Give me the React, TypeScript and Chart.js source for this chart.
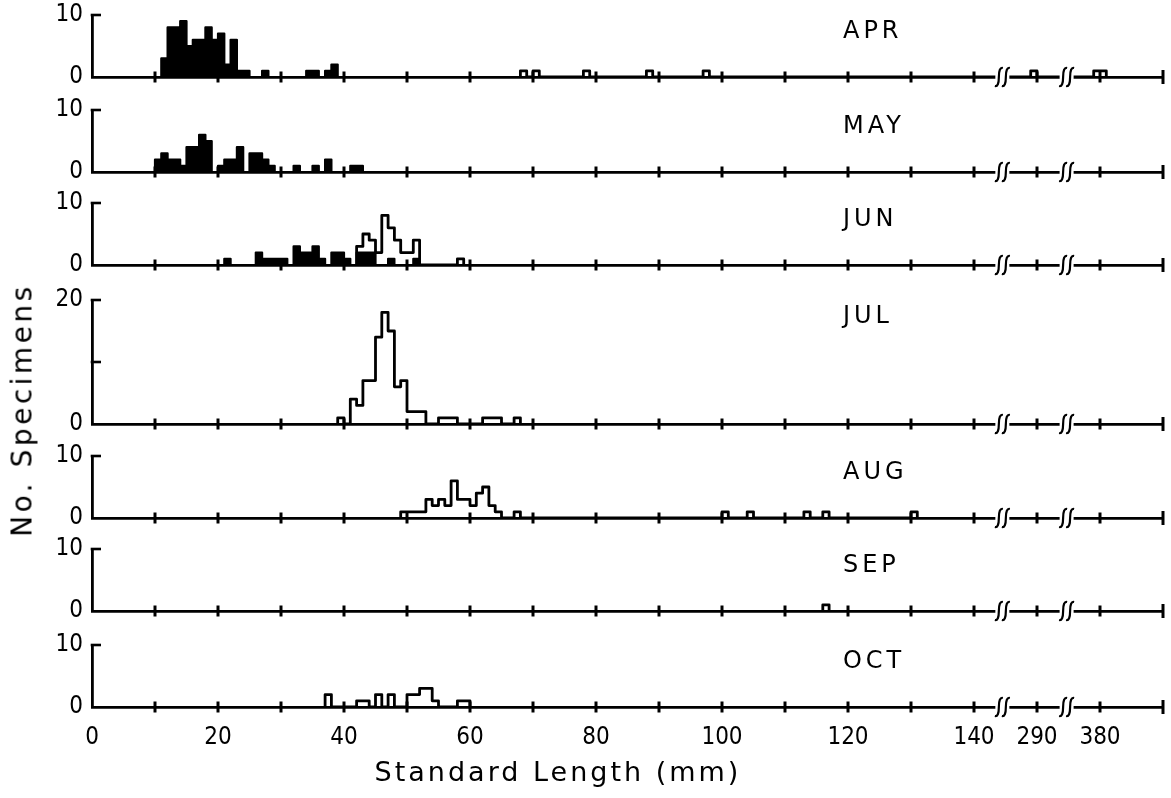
import React, { useEffect, useRef } from "react";
import { Chart, registerables } from "chart.js";

Chart.register(...registerables);

// ---------- DATA (1-mm size classes, left edge in mm; counts = no. specimens) ----------
const monthNames = ["APR", "MAY", "JUN", "JUL", "AUG", "SEP", "OCT"];

const aprFilledBins = [11, 12, 13, 14, 15, 16, 17, 18, 19, 20, 21, 22, 23, 24, 27, 34, 35, 37, 38];
const aprFilledCounts = [3, 8, 8, 9, 5, 6, 6, 8, 6, 7, 2, 6, 1, 1, 1, 1, 1, 1, 2];
const aprOpenBins = [68, 70, 78, 88, 97, 149, 159, 160];
const aprOpenCounts = [1, 1, 1, 1, 1, 1, 1, 1];

const mayFilledBins = [10, 11, 12, 13, 14, 15, 16, 17, 18, 20, 21, 22, 23, 25, 26, 27, 28, 32, 35, 37, 41, 42];
const mayFilledCounts = [2, 3, 2, 2, 1, 4, 4, 6, 5, 1, 2, 2, 4, 3, 3, 2, 1, 1, 1, 2, 1, 1];

const junFilledBins = [21, 26, 27, 28, 29, 30, 32, 33, 34, 35, 36, 38, 39, 40, 42, 43, 44, 47, 51];
const junFilledCounts = [1, 2, 1, 1, 1, 1, 3, 2, 2, 3, 1, 2, 2, 1, 2, 2, 2, 1, 1];
const junOpenBins = [42, 43, 44, 45, 46, 47, 48, 49, 50, 51, 58];
const junOpenCounts = [3, 5, 4, 2, 8, 6, 4, 2, 2, 4, 1];

const julOpenBins = [39, 41, 42, 43, 44, 45, 46, 47, 48, 49, 50, 51, 52, 55, 56, 57, 62, 63, 64, 67];
const julOpenCounts = [1, 4, 3, 7, 7, 14, 18, 15, 6, 7, 2, 2, 2, 1, 1, 1, 1, 1, 1, 1];

const augOpenBins = [49, 50, 51, 52, 53, 54, 55, 56, 57, 58, 59, 60, 61, 62, 63, 64, 67, 100, 104, 113, 116, 130];
const augOpenCounts = [1, 1, 1, 1, 3, 2, 3, 2, 6, 3, 3, 2, 4, 5, 2, 1, 1, 1, 1, 1, 1, 1];

const sepOpenBins = [116];
const sepOpenCounts = [1];

const octOpenBins = [37, 42, 43, 45, 47, 50, 51, 52, 53, 54, 58, 59];
const octOpenCounts = [2, 1, 1, 2, 2, 2, 2, 3, 3, 1, 1, 1];

const yAxisMax = [10, 10, 10, 20, 10, 10, 10];

// x axis: 0-140 mm linear, then broken axis: position 150 = 290 mm, 160 = 380 mm
const xTickValues = [0, 10, 20, 30, 40, 50, 60, 70, 80, 90, 100, 110, 120, 130, 140, 150, 160, 170];
const xTickLabels = ["0", "", "20", "", "40", "", "60", "", "80", "", "100", "", "120", "", "140", "290", "380", ""];
const axisBreaks = [144.5, 154.7];
const monthLabelX = 119.2;

// ---------- LAYOUT ----------
const panelTop = [15, 110, 203, 300, 456, 549, 645];
const panelBase = [77, 172, 265, 424, 518, 611, 707];
const PT = 16;
const XH = 16;
const XH_LAST = 90;
const FONT = "'DejaVu Sans Condensed', 'DejaVu Sans', 'Liberation Sans', sans-serif";
const TITLE_FONT = "'DejaVu Sans', 'Liberation Sans', sans-serif";

type Pt = { x: number; y: number };

function buildSteps(bins: number[], counts: number[]): Pt[] {
  const pts: Pt[] = [];
  for (let i = 0; i < bins.length; i++) {
    const b = bins[i];
    if (i === 0 || bins[i - 1] !== b - 1) pts.push({ x: b, y: 0 });
    pts.push({ x: b, y: counts[i] });
    if (i === bins.length - 1 || bins[i + 1] !== b + 1) pts.push({ x: b + 1, y: 0 });
  }
  return pts;
}

const panelSeries: { filled?: [number[], number[]]; open?: [number[], number[]] }[] = [
  { filled: [aprFilledBins, aprFilledCounts], open: [aprOpenBins, aprOpenCounts] },
  { filled: [mayFilledBins, mayFilledCounts] },
  { filled: [junFilledBins, junFilledCounts], open: [junOpenBins, junOpenCounts] },
  { open: [julOpenBins, julOpenCounts] },
  { open: [augOpenBins, augOpenCounts] },
  { open: [sepOpenBins, sepOpenCounts] },
  { open: [octOpenBins, octOpenCounts] },
];

function makeDecorPlugin(month: string) {
  return {
    id: "decor_" + month,
    afterDraw(chart: any) {
      const ctx: CanvasRenderingContext2D = chart.ctx;
      const xs = chart.scales.x;
      const ys = chart.scales.y;
      const area = chart.chartArea;
      const y0 = ys.getPixelForValue(0);
      ctx.save();
      ctx.strokeStyle = "#000";
      ctx.fillStyle = "#000";
      ctx.lineWidth = 3;
      ctx.lineCap = "butt";
      // crossing tick marks on the x axis
      xTickValues.forEach((v) => {
        if (v === 0) return;
        const px = xs.getPixelForValue(v);
        const len = v === 170 ? 7 : 5.5;
        ctx.beginPath();
        ctx.moveTo(px, y0 - len);
        ctx.lineTo(px, y0 + len);
        ctx.stroke();
      });
      // inward ticks on y axis
      ctx.lineWidth = 2.6;
      ys.ticks.forEach((t: any) => {
        if (t.value === 0) return;
        const py = ys.getPixelForValue(t.value);
        ctx.beginPath();
        ctx.moveTo(area.left - 1.3, py);
        ctx.lineTo(area.left + 9, py);
        ctx.stroke();
      });
      // axis breaks
      axisBreaks.forEach((b) => {
        const px = xs.getPixelForValue(b);
        ctx.fillStyle = "#fff";
        ctx.fillRect(px - 7, y0 - 2, 14, 4);
        ctx.fillStyle = "#000";
        ctx.lineWidth = 2.2;
        [-3.5, 3.5].forEach((dx) => {
          const cx = px + dx;
          ctx.beginPath();
          ctx.moveTo(cx + 4, y0 - 9);
          ctx.quadraticCurveTo(cx, y0 - 10, cx, y0);
          ctx.quadraticCurveTo(cx, y0 + 10, cx - 4, y0 + 9);
          ctx.stroke();
        });
      });
      // month label
      ctx.font = "24px " + TITLE_FONT;
      (ctx as any).letterSpacing = "4px";
      ctx.textAlign = "left";
      ctx.textBaseline = "middle";
      ctx.fillText(month, xs.getPixelForValue(monthLabelX), area.top + 17);
      ctx.restore();
    },
  };
}

export default function App() {
  const refs = useRef<(HTMLCanvasElement | null)[]>([]);

  useEffect(() => {
    const charts: Chart[] = [];
    monthNames.forEach((month, i) => {
      const canvas = refs.current[i];
      if (!canvas) return;
      const isLast = i === monthNames.length - 1;
      const ymax = yAxisMax[i];
      const s = panelSeries[i];
      const datasets: any[] = [];
      if (s.filled) {
        datasets.push({
          data: buildSteps(s.filled[0], s.filled[1]),
          stepped: "before",
          borderColor: "#000",
          backgroundColor: "#000",
          borderWidth: 2.2,
          fill: "origin",
          pointRadius: 0,
          borderJoinStyle: "round",
        });
      }
      if (s.open) {
        datasets.push({
          data: buildSteps(s.open[0], s.open[1]),
          stepped: "before",
          borderColor: "#000",
          backgroundColor: "rgba(0,0,0,0)",
          borderWidth: 2.8,
          fill: false,
          pointRadius: 0,
          borderJoinStyle: "round",
        });
      }
      const yTicks = ymax === 20 ? [0, 10, 20] : [0, 10];
      const chart = new Chart(canvas, {
        type: "line",
        data: { datasets },
        options: {
          responsive: false,
          animation: false,
          devicePixelRatio: 1,
          events: [],
          layout: { padding: { top: PT, right: 8, bottom: 0, left: 0 } },
          plugins: { legend: { display: false }, tooltip: { enabled: false } },
          scales: {
            x: {
              type: "linear",
              min: 0,
              max: 170,
              afterBuildTicks: (sc: any) => {
                sc.ticks = xTickValues.map((v) => ({ value: v }));
              },
              afterFit: (sc: any) => {
                sc.height = isLast ? XH_LAST : XH;
              },
              ticks: {
                display: isLast,
                autoSkip: false,
                maxRotation: 0,
                padding: 8,
                color: "#000",
                font: { family: FONT, size: 24 },
                callback: (v: any) => {
                  const k = xTickValues.indexOf(Number(v));
                  return k >= 0 ? xTickLabels[k] : "";
                },
              },
              grid: { display: false },
              border: { display: true, color: "#000", width: 2.8 },
            },
            y: {
              type: "linear",
              min: 0,
              max: ymax,
              afterBuildTicks: (sc: any) => {
                sc.ticks = yTicks.map((v) => ({ value: v }));
              },
              afterFit: (sc: any) => {
                sc.width = 92;
              },
              ticks: {
                padding: 1,
                color: "#000",
                font: { family: FONT, size: 24 },
                callback: (v: any) => (Number(v) === 0 || Number(v) === ymax ? String(v) : ""),
              },
              grid: { display: false },
              border: { display: true, color: "#000", width: 2.8 },
            },
          },
        } as any,
        plugins: [makeDecorPlugin(month)],
      });
      charts.push(chart);
    });
    return () => charts.forEach((c) => c.destroy());
  }, []);

  return (
    <div style={{ position: "absolute", left: 0, top: 0, width: 1171, height: 798, background: "#fff", overflow: "hidden" }}>
      {monthNames.map((m, i) => {
        const isLast = i === monthNames.length - 1;
        const h = PT + (panelBase[i] - panelTop[i]) + (isLast ? XH_LAST : XH);
        return (
          <canvas
            key={m}
            ref={(el) => {
              refs.current[i] = el;
            }}
            width={1171}
            height={h}
            style={{ position: "absolute", left: 0, top: panelTop[i] - PT, width: 1171, height: h }}
          />
        );
      })}
      <div
        style={{
          position: "absolute",
          left: 22,
          top: 410,
          transform: "translate(-50%, -50%) rotate(-90deg)",
          whiteSpace: "nowrap",
          fontFamily: TITLE_FONT,
          fontSize: 28,
          letterSpacing: "3.5px",
          color: "#000",
        }}
      >
        No. Specimens
      </div>
      <div
        style={{
          position: "absolute",
          left: 558,
          top: 771,
          transform: "translate(-50%, -50%)",
          whiteSpace: "nowrap",
          fontFamily: TITLE_FONT,
          fontSize: 27,
          letterSpacing: "3px",
          color: "#000",
        }}
      >
        Standard Length (mm)
      </div>
    </div>
  );
}
